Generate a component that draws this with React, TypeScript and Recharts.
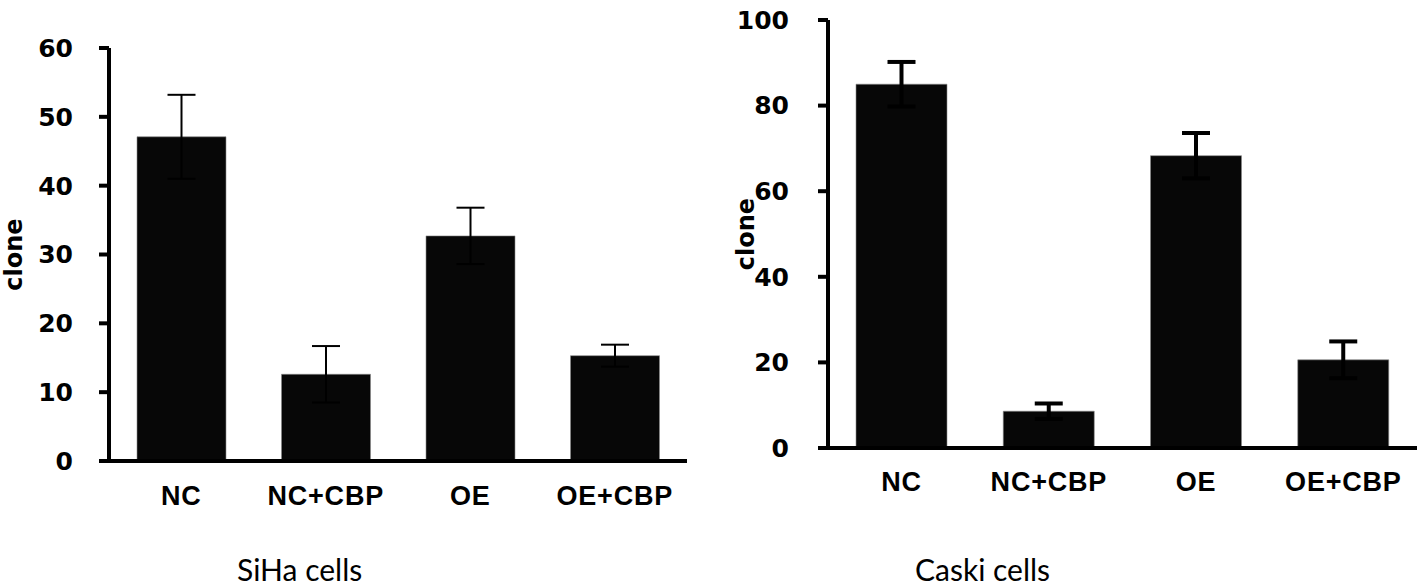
import React from "react"
import { Bar, BarChart, ErrorBar, XAxis, YAxis } from "recharts"

const GROUPS = ["NC", "NC+CBP", "OE", "OE+CBP"]

const SIHA_CLONES = [47.1, 12.6, 32.7, 15.3]
const SIHA_ERR = [6.1, 4.1, 4.1, 1.6]
const SIHA_TICKS = [0, 10, 20, 30, 40, 50, 60]

const CASKI_CLONES = [85.0, 8.6, 68.3, 20.6]
const CASKI_ERR = [5.2, 1.8, 5.3, 4.3]
const CASKI_TICKS = [0, 20, 40, 60, 80, 100]

const TICK_FONT = { fontFamily: "DejaVu Sans", fontWeight: "bold", fontSize: 25, fill: "#000" }
const CAT_FONT = { fontFamily: "Liberation Sans", fontWeight: "bold", fontSize: 27, fill: "#000", letterSpacing: 0.8 }
const AXIS_LINE = { stroke: "#000", strokeWidth: 4 }

const toRows = (values: number[], errs: number[]) =>
  GROUPS.map((group, i) => ({ group, clone: values[i], err: errs[i] }))

interface PanelProps {
  rows: Array<{ group: string; clone: number; err: number }>
  ticks: number[]
  left: number
  width: number
  margin: { top: number; right: number; bottom: number; left: number }
  barSize: number
  errWidth: number
  tickMargin: number
  labelDx: number
  catMargin: number
}

function Panel({ rows, ticks, left, width, margin, barSize, errWidth, tickMargin, labelDx, catMargin }: PanelProps) {
  return (
    <div style={{ position: "absolute", left, top: 0 }}>
      <BarChart width={width} height={588} data={rows} margin={margin}>
        <XAxis
          dataKey="group"
          axisLine={AXIS_LINE}
          tickLine={false}
          tickSize={0}
          tickMargin={catMargin}
          height={40}
          tick={CAT_FONT}
          interval={0}
        />
        <YAxis
          width={80}
          domain={[ticks[0], ticks[ticks.length - 1]]}
          ticks={ticks}
          axisLine={AXIS_LINE}
          tickLine={{ stroke: "#000", strokeWidth: 4 }}
          tickSize={10}
          tickMargin={tickMargin}
          tick={TICK_FONT}
          label={{
            value: "clone",
            angle: -90,
            position: "center",
            dx: labelDx,
            style: { fontFamily: "DejaVu Sans", fontWeight: "bold", fontSize: 24, fill: "#000" },
          }}
        />
        <Bar dataKey="clone" fill="#070707" stroke="#8a8a8a" strokeWidth={0.6} barSize={barSize} isAnimationActive={false}>
          <ErrorBar dataKey="err" width={14} strokeWidth={errWidth} stroke="#000" direction="y" isAnimationActive={false} />
        </Bar>
      </BarChart>
    </div>
  )
}

export default function App() {
  return (
    <div style={{ position: "absolute", left: 0, top: 0, width: 1424, height: 588, background: "#fff", overflow: "hidden" }}>
      <Panel
        rows={toRows(SIHA_CLONES, SIHA_ERR)}
        ticks={SIHA_TICKS}
        left={0}
        width={700}
        margin={{ top: 48, right: 13, bottom: 87, left: 29 }}
        barSize={89}
        errWidth={2}
        tickMargin={26}
        labelDx={-56}
        catMargin={25}
      />
      <Panel
        rows={toRows(CASKI_CLONES, CASKI_ERR)}
        ticks={CASKI_TICKS}
        left={710}
        width={714}
        margin={{ top: 20, right: 7, bottom: 100, left: 38 }}
        barSize={91}
        errWidth={4}
        tickMargin={29}
        labelDx={-43}
        catMargin={24}
      />
      <svg width={1424} height={588} style={{ position: "absolute", left: 0, top: 0, pointerEvents: "none" }}>
        <text x={237} y={581} fontFamily="Lato" fontSize={30} fill="#000">SiHa cells</text>
        <text x={915} y={581} fontFamily="Lato" fontSize={30} fill="#000">Caski cells</text>
      </svg>
    </div>
  )
}
